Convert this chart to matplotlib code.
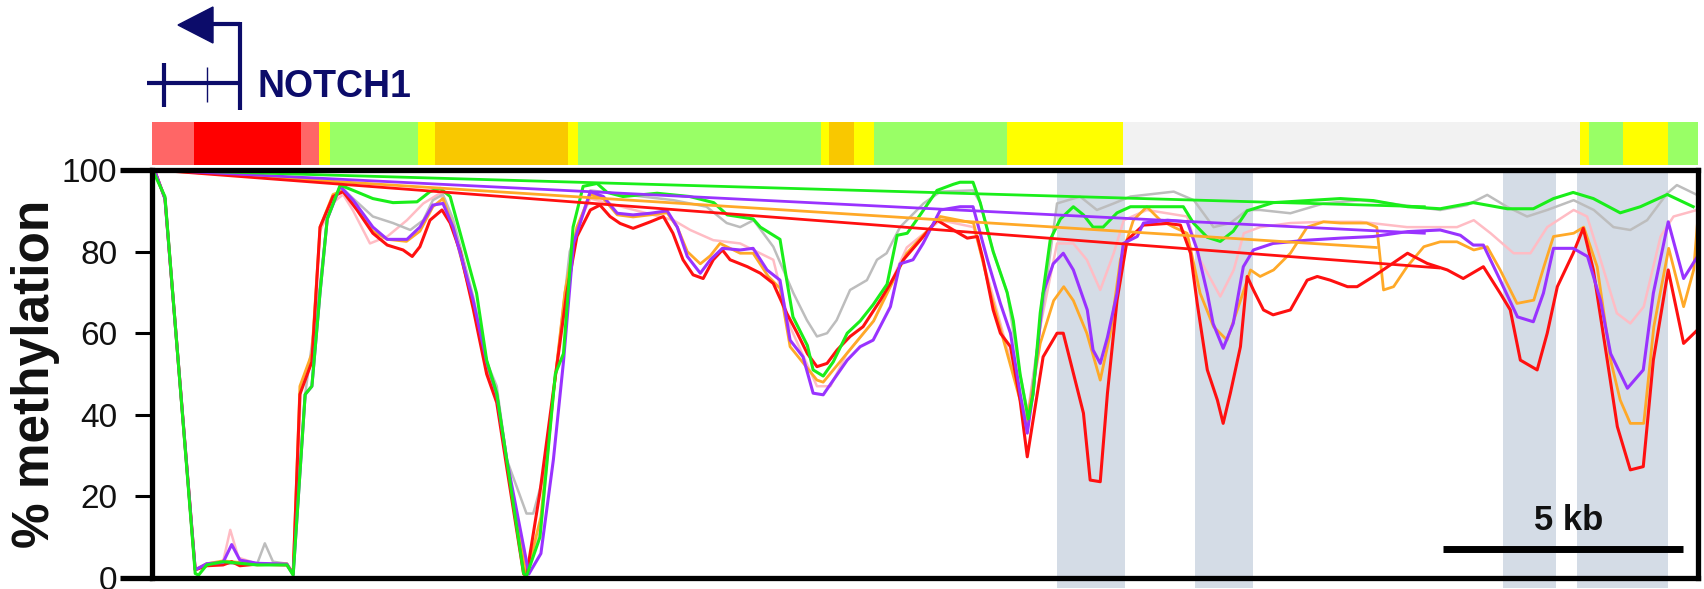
import numpy as np
import matplotlib.pyplot as plt
from matplotlib.lines import Line2D
from matplotlib.patches import Polygon
import matplotlib.transforms as mtransforms

plt.rcParams['font.family'] = ['Liberation Sans', 'DejaVu Sans']

# positions in kb along the region, values in % methylation
green_x = [0.05, 0.27, 0.9, 0.97, 1.14, 1.48, 1.83, 2.19, 2.81, 2.94, 3.19, 3.33, 3.5, 3.65, 3.92, 4.19,
           4.6, 5.02, 5.52, 5.79, 6.0, 6.21, 6.42, 6.76, 6.97, 7.18, 7.39, 7.74, 7.8, 8.08, 8.4, 8.57,
           8.77, 8.98, 9.27, 9.48, 9.81, 10.52, 11.2, 11.7, 11.98, 12.52, 12.67, 13.08, 13.22, 13.35,
           13.65, 13.77, 13.98, 14.19, 14.48, 14.75, 15.02, 15.31, 15.52, 15.73, 16.0, 16.35, 16.69,
           16.83, 17.1, 17.25, 17.52, 17.81, 17.94, 18.08, 18.25, 18.35, 18.5, 18.71, 18.92, 19.19,
           19.4, 19.6, 19.81, 20.1, 20.38, 20.94, 21.48, 21.69, 21.98, 22.25, 22.52, 22.81, 23.35,
           24.06, 24.75, 25.44, 26.15, 26.83, 27.52, 28.23, 28.77, 29.19, 29.6, 30.02, 30.58, 31.0,
           31.56, 32.1]
green_y = [99, 93.5, 1.1, 0.7, 3.2, 4, 3.6, 3.2, 3.2, 0.7, 45, 47, 70, 88, 96.3, 95,
           93, 92, 92.2, 94.7, 95.5, 93.5, 84.5, 69.8, 53.4, 45.3, 28.9, 1.1, 0.5, 10, 50, 55,
           86, 96, 96.7, 94.5, 93.5, 94.3, 93.5, 92, 89, 88, 86, 83, 73, 64,
           57, 51, 49.5, 53, 60, 63, 67, 72, 84, 84.5, 89, 95, 96.5,
           97, 97, 92, 80, 70, 63, 50, 39, 45, 65, 83, 88, 91,
           89, 86, 86, 89.5, 91, 91, 91, 87, 83.5, 82.5, 85, 90, 92,
           92.5, 93, 92.5, 91, 90.5, 92, 90.5, 90.5, 93, 94.5, 93, 89.5, 91,
           94, 91]

purple_x = [0.05, 0.27, 0.9, 1.14, 1.48, 1.66, 1.83, 2.19, 2.81, 2.94, 3.19, 3.33, 3.5, 3.65, 3.92,
            4.19, 4.6, 4.9, 5.31, 5.58, 5.85, 6.06, 6.27, 6.69, 6.97, 7.18, 7.39, 7.85, 8.1, 8.36,
            8.57, 8.78, 9.13, 9.4, 9.69, 10.02, 10.38, 10.73, 10.94, 11.15, 11.42, 11.63, 11.88,
            12.25, 12.52, 12.81, 13.08, 13.29, 13.56, 13.77, 13.98, 14.19, 14.48, 14.75, 15.02,
            15.38, 15.58, 15.85, 16.06, 16.42, 16.83, 17.1, 17.4, 17.67, 17.88, 18.08, 18.23, 18.35,
            18.56, 18.77, 18.98, 19.19, 19.48, 19.6, 19.75, 19.9, 20.1, 20.23, 20.52, 20.65, 21.15,
            21.56, 21.77, 21.98, 22.1, 22.31, 22.52, 22.73, 22.94, 23.35, 24.06, 24.75, 25.44,
            26.15, 26.83, 27.25, 27.52, 27.73, 28.08, 28.44, 28.77, 28.98, 29.19, 29.6, 29.9,
            30.17, 30.38, 30.73, 31.06, 31.27, 31.58, 31.9, 32.19]
purple_y = [100, 93, 2, 3.5, 3.8, 8.2, 4.4, 3.6, 3.4, 0.8, 45, 47, 70, 88, 96,
            92.6, 86, 83, 83, 86, 91.4, 91.8, 86, 68, 53, 45, 29, 1, 6, 29,
            53, 82, 94.7, 93.5, 89.4, 89, 89.4, 90, 86, 78.8, 74.7, 78, 80.8,
            80.4, 80.8, 75.5, 73, 58.3, 54.2, 45.3, 44.9, 48.5, 53.4, 56.7, 58.3,
            66.5, 77, 78, 82, 90.2, 91, 91, 78, 67.3, 60, 45.3, 35.5, 45.3,
            69.8, 77, 79.6, 75.5, 65.7, 55.9, 52.6, 59, 69.8, 82, 83.7, 87, 87.7,
            87.3, 80.4, 69.8, 62.4, 56.3, 62.4, 76.3, 80.4, 82, 82.8, 83.3, 83.7,
            84.9, 85.3, 84, 81.6, 81.6, 73, 64, 62.8, 69.8, 80.8, 80.8, 78.8,
            68, 55, 46.5, 51, 69.8, 87.3, 73.4, 78.8]

red_x = [0.05, 0.27, 0.9, 1.14, 1.48, 1.66, 1.83, 2.19, 2.81, 2.94, 3.08, 3.33, 3.5, 3.77, 3.98,
         4.27, 4.6, 4.9, 5.23, 5.42, 5.58, 5.79, 6.04, 6.21, 6.42, 6.69, 6.97, 7.18, 7.39, 7.74,
         7.8, 8.08, 8.35, 8.64, 8.85, 9.13, 9.33, 9.54, 9.75, 10.02, 10.38, 10.65, 10.85, 11.06,
         11.27, 11.48, 11.69, 11.88, 12.04, 12.4, 12.67, 12.94, 13.22, 13.44, 13.65, 13.85,
         14.06, 14.27, 14.54, 14.81, 15.17, 15.38, 15.65, 16.0, 16.35, 16.69, 16.98, 17.19,
         17.31, 17.52, 17.67, 17.88, 18.08, 18.23, 18.44, 18.56, 18.85, 18.98, 19.19, 19.4,
         19.54, 19.75, 19.9, 20.1, 20.31, 20.65, 21.15, 21.42, 21.63, 21.77, 21.98, 22.19,
         22.31, 22.46, 22.67, 22.81, 22.94, 23.15, 23.35, 23.71, 24.06, 24.27, 24.54, 24.9,
         25.1, 25.44, 26.15, 26.56, 26.98, 27.31, 27.73, 28.08, 28.29, 28.5, 28.85, 29.06,
         29.27, 29.6, 29.81, 30.02, 30.31, 30.52, 30.79, 31.06, 31.27, 31.58, 31.9, 32.19]
red_y = [100, 93, 2, 3, 3.2, 4, 3, 3.4, 3.2, 1, 45, 53, 86, 93.5, 94.7,
         90.2, 84.5, 81.6, 80.4, 78.8, 81.2, 87.7, 90.2, 87, 80, 66, 50, 43, 27, 1,
         0.5, 21, 45, 70, 83.7, 90.2, 91.4, 88.6, 86.9, 85.7, 87.3, 88.6, 84.5, 78,
         74.3, 73.4, 78, 80.4, 78, 76.3, 74.7, 72.2, 64.9, 60, 55, 51.8,
         52.6, 55.9, 59.2, 61.6, 68.1, 72.2, 78, 82.8, 87.7, 85.3, 83.3, 83.7,
         78, 65.7, 60, 56.7, 43.6, 29.7, 45.3, 54.2, 60, 60, 50.2, 40.4,
         24, 23.6, 45.3, 68.1, 82.8, 86.5, 86.9, 86.5, 79.6, 67.3, 51, 43.6,
         37.9, 45.3, 56.7, 73.9, 70.6, 65.7, 64.5, 65.7, 73, 73.9, 73, 71.4,
         71.4, 73.9, 79.6, 77.1, 75.5, 73.4, 76.3, 69.8, 65.7, 53.4, 51, 60,
         71.4, 79.6, 85.7, 75.5, 53.4, 37.1, 26.5, 27.3, 53.4, 75.5, 57.5, 60.8]

orange_x = [0.05, 0.27, 0.9, 1.14, 1.48, 1.83, 2.19, 2.81, 2.94, 3.08, 3.33, 3.5, 3.77, 3.98, 4.27,
            4.6, 4.9, 5.3, 5.58, 5.85, 6.06, 6.27, 6.69, 6.97, 7.18, 7.39, 7.8, 8.1, 8.36, 8.6,
            8.85, 9.13, 9.4, 9.69, 10.02, 10.38, 10.73, 10.94, 11.15, 11.42, 11.63, 11.83, 12.25,
            12.52, 12.83, 13.08, 13.29, 13.85, 13.98, 14.33, 15.03, 15.72, 16.42, 17.11, 17.46,
            18.08, 18.22, 18.5, 18.78, 18.99, 19.19, 19.47, 19.75, 19.96, 20.17, 20.44, 20.72,
            21.0, 21.28, 21.56, 21.83, 22.11, 22.39, 22.67, 22.88, 23.08, 23.36, 23.71, 24.06,
            24.4, 24.75, 25.3, 25.51, 25.65, 25.86, 26.14, 26.49, 26.83, 27.18, 27.53, 27.81,
            28.08, 28.43, 28.78, 28.99, 29.19, 29.61, 29.82, 30.1, 30.38, 30.58, 30.79, 31.07,
            31.28, 31.59, 31.9, 32.11, 32.21]
orange_y = [100, 93, 2, 3.5, 4.2, 3.8, 3.2, 3.5, 1, 47, 55, 86, 94, 95, 91,
            85, 83, 82.5, 85, 91, 93, 86, 67, 51, 44, 28, 0.5, 15, 45, 70,
            86, 94, 93, 89, 88.5, 89, 89.5, 86, 80, 77, 79, 82, 79.6,
            79.6, 74, 71, 56.7, 48.5, 48, 53, 63, 79.6, 88.6, 87, 70,
            43.6, 38, 57.5, 68, 71.4, 68, 60, 48.5, 60, 78, 87.7, 91,
            87.7, 86, 84.5, 69.8, 61.6, 58.3, 68, 75.5, 73.9, 75.5, 79.6, 86,
            87.3, 87, 87, 86, 70.6, 71.4, 76.3, 81.2, 82.4, 82.4, 80.4, 81.2,
            75.5, 67.3, 68.1, 76.3, 83.7, 84.5, 86, 76.3, 53.4, 43.6, 37.9, 37.9,
            61.6, 80.8, 66.5, 75.5, 90.2]

pink_x = [0.05, 0.27, 0.9, 1.14, 1.48, 1.63, 1.8, 2.19, 2.81, 2.94, 3.1, 3.33, 3.5, 3.77, 3.98,
          4.19, 4.54, 4.9, 5.31, 5.65, 6.0, 6.27, 6.69, 6.97, 7.18, 7.39, 7.8, 8.1, 8.36, 8.6,
          8.85, 9.13, 10.86, 11.21, 11.69, 12.25, 12.94, 13.29, 13.85, 14.13, 14.47, 15.03,
          15.72, 16.42, 17.11, 17.46, 18.22, 18.5, 18.85, 19.19, 19.47, 19.75, 20.03, 20.24,
          20.72, 21.56, 21.83, 22.25, 22.53, 22.74, 23.08, 23.71, 24.4, 25.17, 26.14, 27.18,
          27.53, 27.88, 28.36, 28.71, 29.06, 29.61, 29.89, 30.17, 30.51, 30.79, 31.07, 31.42,
          31.69, 32.18]
pink_y = [100, 93, 2, 3.5, 4, 11.8, 5, 3.5, 3.5, 1, 46, 55, 85, 92, 94,
          90, 82, 83.7, 87.7, 91.8, 94.3, 87, 68, 52, 45, 28, 0.5, 12, 45, 70,
          86, 93, 87.7, 85.3, 82.8, 82, 78, 61.6, 47, 47, 55, 63,
          81, 87.7, 86, 71.4, 38.7, 61.6, 82, 82, 78, 70.6, 79.6, 87.7,
          90.2, 88.6, 78, 69, 75.5, 84.5, 86, 87, 87.3, 87.3, 86, 86,
          87.7, 84.5, 79.6, 79.6, 86, 90.2, 88.6, 78, 64.9, 62.4, 66.5, 83.7,
          88.6, 90.2]

grey_x = [0.05, 0.27, 0.9, 1.14, 1.48, 1.83, 2.19, 2.35, 2.52, 2.81, 2.94, 3.19, 3.5, 3.65, 3.92,
          4.19, 4.6, 5.02, 5.38, 5.65, 5.85, 6.06, 6.27, 6.69, 6.97, 7.18, 7.39, 7.8, 7.94, 8.15,
          8.43, 8.7, 9.13, 10.86, 11.55, 11.97, 12.25, 12.53, 12.94, 13.36, 13.64, 13.85, 14.06,
          14.26, 14.54, 14.89, 15.1, 15.3, 15.58, 16.07, 16.42, 17.1, 17.25, 17.52, 17.81, 18.08,
          18.25, 18.5, 18.85, 19.33, 19.68, 20.03, 20.38, 21.28, 21.7, 22.11, 22.46, 22.81,
          23.08, 23.71, 24.4, 25.17, 25.79, 26.83, 27.39, 27.81, 28.22, 28.64, 29.06, 29.61,
          30.03, 30.44, 30.79, 31.14, 31.56, 31.76, 32.11, 32.25]
grey_y = [100, 93, 2, 3.5, 3.5, 3.5, 3.5, 8.5, 4, 3.5, 1, 45, 72, 88, 96,
          93, 88.6, 87, 85.3, 87.7, 92.6, 94, 88, 69, 53, 47, 29, 15.8, 15.8, 24.8,
          51.8, 80, 95, 92.6, 91, 87, 86, 87.7, 81.2, 69.8, 63.2, 59.2, 60,
          63.2, 70.6, 73, 78, 79.6, 86, 91.8, 94.7, 95, 92, 80, 70, 50,
          40, 61.6, 91.8, 93.5, 90.2, 91.8, 93.5, 94.7, 92.6, 86, 87, 90.2,
          90.2, 89.4, 91.8, 92.6, 91.8, 90.2, 91.4, 93.9, 91, 88.6, 90.2, 92.6,
          90.2, 86, 85.3, 87.7, 94.3, 96.3, 94.3, 93.5]

# straight segments from the first point back to a late point (green, purple, red, orange)
chord_end_x = [26.5, 26.5, 26.8, 25.5]
chord_end_y = [91, 84.5, 76, 81]

# annotation track above the plot
track_start = [0, 0.81, 3.04, 3.42, 3.65, 5.5, 5.85, 8.63, 8.83, 13.9, 14.06, 14.58, 15.0,
               17.79, 20.21, 29.73, 29.92, 30.63, 31.58]
track_end = track_start[1:] + [32.25]
track_state = ['lred', 'red', 'lred', 'yellow', 'lgreen', 'yellow', 'orange', 'yellow', 'lgreen',
               'yellow', 'orange', 'yellow', 'lgreen', 'yellow', 'grey', 'yellow', 'lgreen',
               'yellow', 'lgreen']
state_colors = {'lred': '#ff6666', 'red': '#ff0000', 'yellow': '#ffff00', 'lgreen': '#99ff66',
                'orange': '#f9c800', 'grey': '#f2f2f2'}

band_start = [18.85, 21.73, 28.13, 29.69]
band_end = [20.27, 22.94, 29.25, 31.58]

W, H = 1704, 589
fig = plt.figure(figsize=(W / 100, H / 100), dpi=100)
ax = fig.add_axes([152 / W, 11 / H, 1546 / W, 408 / H])
ax.set_xlim(0, 32.2)
ax.set_ylim(0, 100)

for s, e in zip(band_start, band_end):
    ax.axvspan(s, e, ymin=-0.025, ymax=1, color='#d4dce6', lw=0, zorder=0, clip_on=False)

series = [
    (pink_x, pink_y, '#ffbcc4', 1.8),
    (grey_x, grey_y, '#bdbdbd', 1.8),
    (orange_x, orange_y, '#ffa928', 2.0),
    (red_x, red_y, '#ff1010', 2.2),
    (purple_x, purple_y, '#9933ff', 2.2),
    (green_x, green_y, '#1aee1a', 2.2),
]
for x, y, c, lw in series:
    ax.plot(x, y, color=c, lw=lw, zorder=3)

chord_colors = ['#1aee1a', '#9933ff', '#ff1010', '#ffa928']
chord_z = [3.6, 3.5, 3.3, 3.2]
for ex, ey, c, z in zip(chord_end_x, chord_end_y, chord_colors, chord_z):
    ax.plot([0.05, ex], [100, ey], color=c, lw=2.0, zorder=z)

# scale bar
ax.plot([26.88, 31.88], [7.1, 7.1], color='black', lw=5, solid_capstyle='butt', zorder=5)
ax.text(29.5, 14.2, '5 kb', ha='center', va='center', fontsize=25, fontweight='bold',
        color='#111111', zorder=5)

for sp in ax.spines.values():
    sp.set_linewidth(3.8)
    sp.set_zorder(6)
ax.set_xticks([])
ax.set_yticks([0, 20, 40, 60, 80, 100])
ax.tick_params(axis='y', length=12, width=2.2, pad=13, labelsize=24, labelcolor='#111111')

# top and bottom lines run a bit past the left axis
tr = mtransforms.blended_transform_factory(ax.transAxes, ax.transData)
for yv in [0, 100]:
    ax.plot([-0.0205, 0], [yv, yv], color='black', lw=3.8, transform=tr, clip_on=False,
            solid_capstyle='butt')

fig.text(36 / W, 1 - 374 / H, '% methylation', rotation=90, ha='center', va='center',
         fontsize=37, fontweight='bold', color='#111111')

# annotation colour track
tax = fig.add_axes([152 / W, 1 - 165 / H, 1546 / W, 43 / H])
tax.set_xlim(-0.06, 32.2)
tax.set_ylim(0, 1)
for s, e, st in zip(track_start, track_end, track_state):
    tax.axvspan(s if s > 0 else -0.06, e, color=state_colors[st], lw=0)
tax.axis('off')

# gene model
navy = '#0c0c6a'
def px(x, y):
    return x / W, 1 - y / H

lines = [((147, 83), (240, 83), 3), ((240, 22), (240, 110), 3), ((240, 24), (212, 24), 3),
         ((164, 63), (164, 107), 3), ((207, 67), (207, 102), 1)]
for (x0, y0), (x1, y1), lw in lines:
    a, b = px(x0, y0)
    c, d = px(x1, y1)
    fig.add_artist(Line2D([a, c], [b, d], color=navy, lw=lw, solid_capstyle='butt'))
fig.add_artist(Polygon([px(178, 25), px(213, 7), px(213, 43)], closed=True, color=navy,
                       transform=fig.transFigure))
fig.text(258 / W, 1 - 97 / H, 'NOTCH1', ha='left', va='baseline', fontsize=27,
         fontweight='bold', color=navy)

fig.savefig('out.png', dpi=100)
